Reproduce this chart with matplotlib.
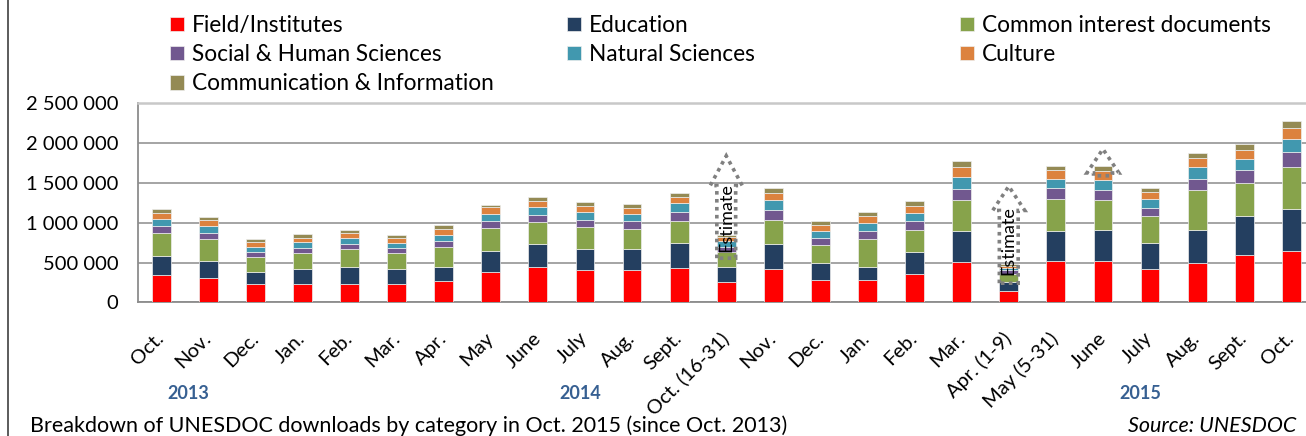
import matplotlib
matplotlib.use("Agg")
import matplotlib.pyplot as plt
from matplotlib.patches import Polygon
from matplotlib.lines import Line2D
import numpy as np

plt.rcParams["font.family"] = ["Lato", "DejaVu Sans"]

# ---- data (thousands of downloads) ----
months = ["Oct.", "Nov.", "Dec.", "Jan.", "Feb.", "Mar.", "Apr.", "May", "June",
          "July", "Aug.", "Sept.", "Oct. (16-31)", "Nov.", "Dec.", "Jan.", "Feb.",
          "Mar.", "Apr. (1-9)", "May (5-31)", "June", "July", "Aug.", "Sept.", "Oct."]

field = [337, 308, 225, 225, 233, 233, 263, 379, 438, 404, 404, 433, 254,
         417, 275, 283, 350, 504, 138, 517, 525, 417, 500, 600, 650]
education = [242, 213, 158, 196, 213, 184, 179, 267, 291, 267, 267, 313, 184,
             321, 221, 163, 283, 388, 112, 379, 383, 329, 404, 483, 517]
common = [296, 275, 188, 196, 221, 200, 254, 287, 275, 279, 254, 279, 195,
          300, 229, 354, 275, 391, 104, 404, 380, 333, 504, 421, 537]
social = [83, 79, 62, 66, 66, 66, 75, 88, 92, 88, 92, 113, 63,
          125, 83, 100, 117, 142, 50, 133, 125, 104, 142, 154, 179]
natural = [88, 83, 63, 71, 71, 67, 75, 87, 104, 100, 96, 104, 75,
           116, 88, 92, 100, 150, 29, 113, 125, 113, 146, 138, 163]
culture = [79, 71, 62, 59, 63, 54, 79, 84, 75, 70, 70, 83, 50,
           100, 79, 87, 88, 129, 25, 112, 112, 92, 117, 117, 142]
communication = [42, 46, 34, 41, 37, 38, 42, 25, 54, 50, 46, 50, 29,
                 63, 46, 50, 54, 71, 21, 59, 58, 50, 66, 79, 91]

series_names = ["Field/Institutes", "Education", "Common interest documents",
                "Social & Human Sciences", "Natural Sciences", "Culture",
                "Communication & Information"]
series_values = [field, education, common, social, natural, culture, communication]
colors = ["#FF0000", "#243F60", "#87A34B", "#71588F", "#4198AF", "#DC823E", "#948A54"]

# estimate arrows: category index, bottom, head base, tip (thousands)
arrow_cat = [12, 18, 20]
arrow_bottom = [554, 240, 1590]
arrow_base = [1466, 1154, 1625]
arrow_tip = [1840, 1458, 1925]
estimate_cat = [12, 18]
estimate_y = [1066, 779]

years = ["2013", "2014", "2015"]
year_x = [188, 580, 1140]  # pixel centres

# ---- figure ----
W, H = 1306, 436
fig = plt.figure(figsize=(W / 100, H / 100), dpi=100)
ax = fig.add_axes([137.7 / W, (H - 302.3) / H, (1314.8 - 137.7) / W, (302.3 - 103.3) / H])

x = np.arange(len(months))
bottom = np.zeros(len(months))
bars = []
for name, vals, c in zip(series_names, series_values, colors):
    v = np.array(vals) * 1000
    b = ax.bar(x, v, width=0.4, bottom=bottom, color=c, edgecolor="#eeeeee",
               linewidth=0.5, label=name, zorder=3)
    bars.append(b)
    bottom += v

ax.set_xlim(-0.5, len(months) - 0.5)
ax.set_ylim(0, 2_500_000)
ax.set_yticks(np.arange(0, 2_500_001, 500_000))
ax.set_yticklabels([f"{int(t):,}".replace(",", " ") for t in ax.get_yticks()],
                   fontsize=14.5)
ax.set_xticks(x)
ax.set_xticklabels(months, rotation=45, ha="right", va="center",
                   rotation_mode="anchor", fontsize=14.5)
ax.tick_params(axis="y", length=0, pad=14)
ax.tick_params(axis="x", length=0, pad=24)
ax.yaxis.grid(True, color="#8c8c8c", lw=1.1, zorder=0)
ax.set_axisbelow(True)
ax.spines["top"].set_color("#c8c8c8")
ax.spines["top"].set_linewidth(1.8)
ax.spines["right"].set_visible(False)
for s in ("left", "bottom"):
    ax.spines[s].set_color("#8c8c8c")
    ax.spines[s].set_linewidth(1.3)

# dotted "estimate" arrows
sw, hw = 0.2, 0.34
for i, b0, hb, tp in zip(arrow_cat, arrow_bottom, arrow_base, arrow_tip):
    b0, hb, tp = b0 * 1000, hb * 1000, tp * 1000
    verts = [(i - sw, b0), (i - sw, hb), (i - hw, hb), (i, tp),
             (i + hw, hb), (i + sw, hb), (i + sw, b0)]
    ax.add_patch(Polygon(verts, closed=True, fill=False, edgecolor="#808080",
                         linestyle=(0, (1, 1.2)), linewidth=2.6, zorder=5))
for i, yv in zip(estimate_cat, estimate_y):
    ax.text(i, yv * 1000, "Estimate", rotation=90, ha="center", va="center",
            fontsize=13, zorder=6)

# legend, three columns
cols = [[0, 3, 6], [1, 4], [2, 5]]
col_x = [170, 567, 960]
for idx, cx in zip(cols, col_x):
    leg = fig.legend([bars[k] for k in idx], [series_names[k] for k in idx],
                     loc="upper left", bbox_to_anchor=(cx / W, 1 - 15 / H),
                     frameon=False, fontsize=16.3, borderpad=0, borderaxespad=0,
                     handlelength=0.6, handleheight=0.6, handletextpad=0.35,
                     labelspacing=0.36)

# year labels
for yr, yx in zip(years, year_x):
    fig.text(yx / W, 1 - 393 / H, yr, ha="center", va="center", fontsize=13,
             fontweight="bold", color="#376092")

fig.text(30 / W, 1 - 426 / H,
         "Breakdown of UNESDOC downloads by category in Oct. 2015 (since Oct. 2013)",
         ha="left", va="center", fontsize=15.5)
fig.text(1128 / W, 1 - 426 / H, "Source: UNESDOC", ha="left", va="center",
         fontsize=15.5, style="italic")

# slide frame on the left
fig.add_artist(Line2D([7.5 / W, 7.5 / W], [0, 1], color="#404040", lw=1.2))

fig.savefig("out.png", dpi=100)
